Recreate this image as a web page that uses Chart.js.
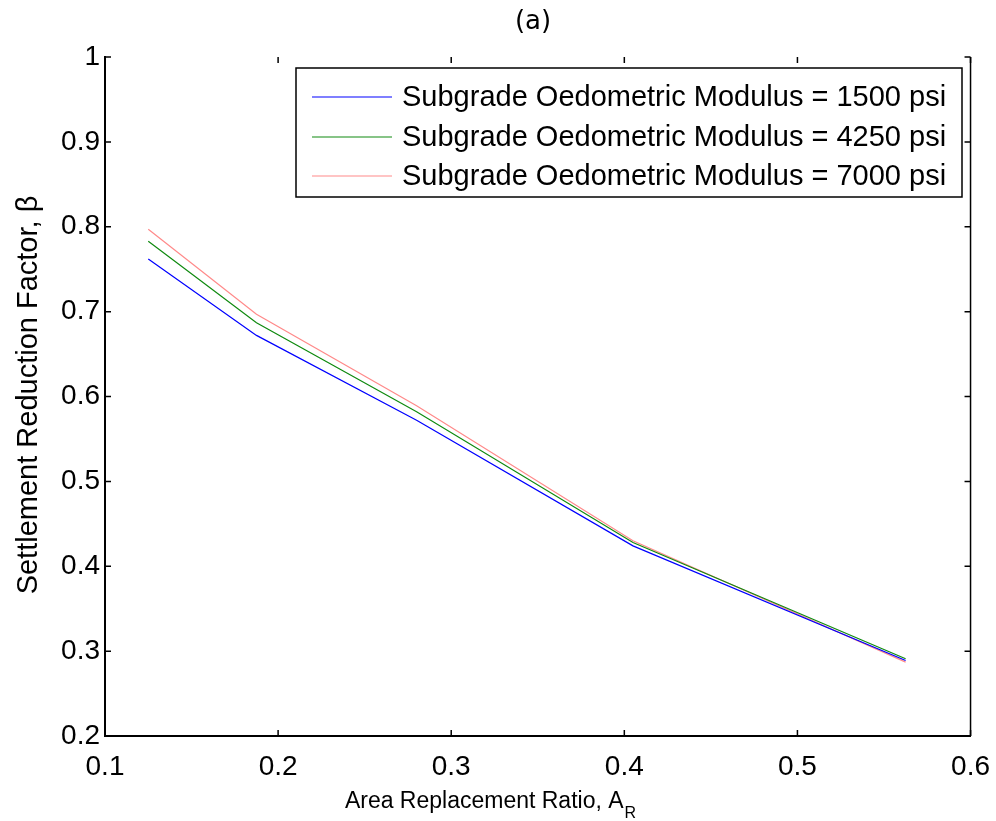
<!DOCTYPE html>
<html>
<head>
<meta charset="utf-8">
<script src="https://cdn.jsdelivr.net/npm/chart.js@4/dist/chart.umd.min.js"></script>
<style>
html,body{margin:0;padding:0;background:#fff;}
#wrap{width:996px;height:821px;}
</style>
</head>
<body>
<div id="wrap"><canvas id="c" width="996" height="821"></canvas></div>
<script>
// ---- data ----
const areaRatio = [0.125, 0.1875, 0.28, 0.405, 0.5625];
const beta1500 = [0.762, 0.672, 0.572, 0.424, 0.289];
const beta4250 = [0.783, 0.687, 0.582, 0.428, 0.291];
const beta7000 = [0.797, 0.697, 0.589, 0.430, 0.287];
const seriesLabels = [
  'Subgrade Oedometric Modulus = 1500 psi',
  'Subgrade Oedometric Modulus = 4250 psi',
  'Subgrade Oedometric Modulus = 7000 psi'
];
const xTicks = [0.1, 0.2, 0.3, 0.4, 0.5, 0.6];
const yTicks = [0.2, 0.3, 0.4, 0.5, 0.6, 0.7, 0.8, 0.9, 1];
const chartTitle = '(a)';
const xTitle = 'Area Replacement Ratio, A';
const xTitleSub = 'R';
const yTitle = 'Settlement Reduction Factor, \u03B2';

const colors = ['#0000ff', '#108a10', '#ff8a8a'];
const seriesValues = [beta1500, beta4250, beta7000];

const datasets = seriesValues.map((vals, i) => ({
  label: seriesLabels[i],
  data: areaRatio.map((x, j) => ({x: x, y: vals[j]})),
  borderColor: colors[i],
  backgroundColor: colors[i],
  borderWidth: 1.2,
  pointRadius: 0,
  tension: 0,
  fill: false
}));

const FONT = "'Liberation Sans', Arial, sans-serif";

const decorPlugin = {
  id: 'decor',
  afterDraw(chart) {
    const ctx = chart.ctx;
    const a = chart.chartArea;
    const xs = chart.scales.x, ys = chart.scales.y;
    ctx.save();
    // right axis line
    ctx.strokeStyle = '#000';
    ctx.lineWidth = 1.5;
    ctx.beginPath();
    ctx.moveTo(a.right, a.top);
    ctx.lineTo(a.right, a.bottom);
    ctx.stroke();
    // inward tick marks
    const tl = 6;
    ctx.lineWidth = 1.5;
    ctx.beginPath();
    xTicks.forEach(v => {
      const px = xs.getPixelForValue(v);
      ctx.moveTo(px, a.bottom); ctx.lineTo(px, a.bottom - tl);
      ctx.moveTo(px, a.top); ctx.lineTo(px, a.top + tl);
    });
    yTicks.forEach(v => {
      const py = ys.getPixelForValue(v);
      ctx.moveTo(a.left, py); ctx.lineTo(a.left + tl, py);
      ctx.moveTo(a.right, py); ctx.lineTo(a.right - tl, py);
    });
    ctx.stroke();

    // title
    ctx.fillStyle = '#000';
    ctx.font = "26px 'DejaVu Sans', sans-serif";
    ctx.textAlign = 'center';
    ctx.textBaseline = 'middle';
    ctx.fillText(chartTitle, 533, 22);

    // x title with subscript
    ctx.font = '23px ' + FONT;
    const w1 = ctx.measureText(xTitle).width;
    ctx.font = '16px ' + FONT;
    const w2 = ctx.measureText(xTitleSub).width;
    const startX = 490 - (w1 + w2) / 2;
    ctx.textAlign = 'left';
    ctx.textBaseline = 'alphabetic';
    ctx.font = '23px ' + FONT;
    ctx.fillText(xTitle, startX, 808);
    ctx.font = '16px ' + FONT;
    ctx.fillText(xTitleSub, startX + w1 + 1, 818);

    // y title
    ctx.save();
    ctx.translate(37, 395);
    ctx.rotate(-Math.PI / 2);
    ctx.font = '29px ' + FONT;
    ctx.textAlign = 'center';
    ctx.textBaseline = 'alphabetic';
    ctx.fillText(yTitle, 0, 0);
    ctx.restore();

    // legend
    const bx = 296, by = 68, bw = 666, bh = 129;
    ctx.fillStyle = '#fff';
    ctx.fillRect(bx, by, bw, bh);
    ctx.strokeStyle = '#000';
    ctx.lineWidth = 1.5;
    ctx.strokeRect(bx, by, bw, bh);
    const rows = [97, 137, 176];
    chart.data.datasets.forEach((ds, i) => {
      ctx.strokeStyle = ds.borderColor;
      ctx.lineWidth = 1.2;
      ctx.beginPath();
      ctx.moveTo(312, rows[i]);
      ctx.lineTo(392, rows[i]);
      ctx.stroke();
      ctx.fillStyle = '#000';
      ctx.font = '29px ' + FONT;
      ctx.textAlign = 'left';
      ctx.textBaseline = 'middle';
      ctx.fillText(ds.label, 402, rows[i] + 1);
    });
    ctx.restore();
  }
};

new Chart(document.getElementById('c'), {
  type: 'line',
  data: {datasets: datasets},
  options: {
    responsive: false,
    animation: false,
    devicePixelRatio: 1,
    layout: {padding: {top: 57, right: 24, left: 0, bottom: 0}},
    plugins: {legend: {display: false}, title: {display: false}, tooltip: {enabled: false}},
    scales: {
      x: {
        type: 'linear',
        min: 0.1, max: 0.6,
        afterBuildTicks: (s) => { s.ticks = xTicks.map(v => ({value: v})); },
        afterFit: (s) => { s.height = 85; },
        grid: {display: false},
        border: {display: true, color: '#000', width: 2},
        ticks: {
          color: '#000', padding: 6,
          font: {family: FONT, size: 28},
          callback: (v) => String(Math.round(v * 10) / 10)
        }
      },
      y: {
        type: 'linear',
        min: 0.2, max: 1,
        afterBuildTicks: (s) => { s.ticks = yTicks.map(v => ({value: v})); },
        afterFit: (s) => { s.width = 105; },
        grid: {display: false},
        border: {display: true, color: '#000', width: 2},
        ticks: {
          color: '#000', padding: -3,
          font: {family: FONT, size: 28},
          callback: (v) => String(Math.round(v * 10) / 10)
        }
      }
    }
  },
  plugins: [decorPlugin]
});
</script>
</body>
</html>
